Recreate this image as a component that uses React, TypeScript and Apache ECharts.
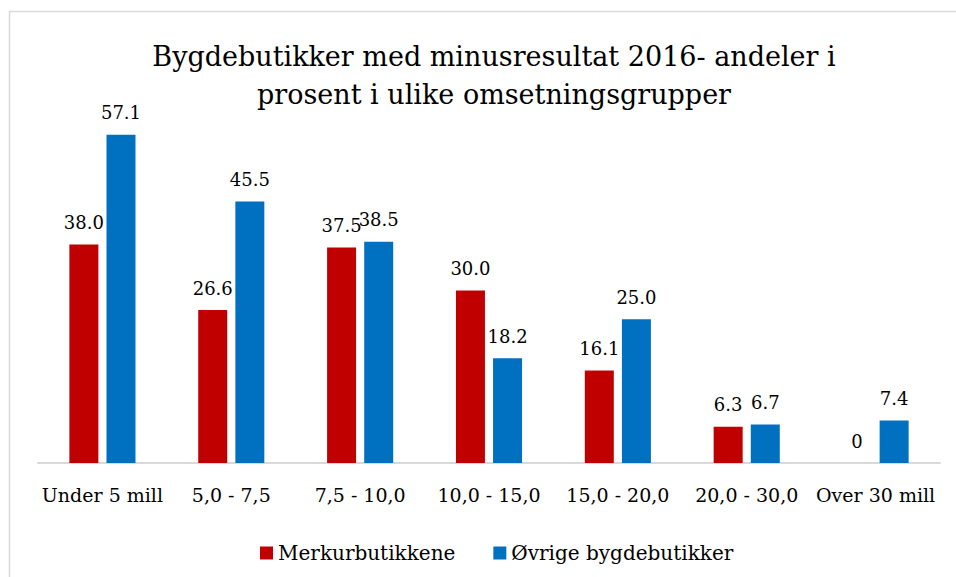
import React, { useEffect, useRef } from "react";
import * as echarts from "echarts";

const titleText = "Bygdebutikker med minusresultat 2016- andeler i\nprosent i ulike omsetningsgrupper";
const categories = ["Under 5 mill", "5,0 - 7,5", "7,5 - 10,0", "10,0 - 15,0", "15,0 - 20,0", "20,0 - 30,0", "Over 30 mill"];
const seriesNames = ["Merkurbutikkene", "Øvrige bygdebutikker"];
const merkur = [38.0, 26.6, 37.5, 30.0, 16.1, 6.3, 0];
const ovrige = [57.1, 45.5, 38.5, 18.2, 25.0, 6.7, 7.4];
const colors = ["#C00000", "#0070C0"];

const FONT = "'DejaVu Serif', serif";

export default function App() {
  const ref = useRef<HTMLDivElement>(null);
  useEffect(() => {
    if (!ref.current) return;
    const chart = echarts.init(ref.current, null, { renderer: "svg" });
    const fmt = (p: any) => (p.value === 0 ? "0" : Number(p.value).toFixed(1));
    chart.setOption({
      animation: false,
      backgroundColor: "#ffffff",
      textStyle: { fontFamily: FONT },
      title: {
        text: titleText,
        left: 489,
        textAlign: "center",
        top: 32,
        textStyle: { fontFamily: FONT, fontSize: 27, fontWeight: "normal", color: "#000", lineHeight: 38 },
      },
      graphic: [
        {
          type: "rect",
          shape: { x: 9.5, y: 11.5, width: 950, height: 580 },
          style: { fill: "none", stroke: "#D9D9D9", lineWidth: 1.5 },
          silent: true,
        },
      ],
      legend: {
        data: seriesNames,
        left: 255,
        top: 538,
        itemWidth: 13,
        itemHeight: 13,
        itemGap: 38,
        icon: "rect",
        textStyle: { fontFamily: FONT, fontSize: 20, color: "#000" },
      },
      grid: { left: 38, right: 16, top: 118, bottom: 114, containLabel: false },
      xAxis: {
        type: "category",
        data: categories,
        axisLine: { lineStyle: { color: "#D9D9D9", width: 2 } },
        axisTick: { show: false },
        axisLabel: { fontFamily: FONT, fontSize: 19, color: "#000", margin: 22, interval: 0 },
      },
      yAxis: {
        type: "value",
        min: 0,
        max: 60,
        show: false,
        splitLine: { show: false },
      },
      series: [
        {
          name: seriesNames[0],
          type: "bar",
          data: merkur,
          barWidth: 29,
          barGap: "28%",
          itemStyle: { color: colors[0] },
          label: { show: true, position: "top", distance: 13, formatter: fmt, fontFamily: FONT, fontSize: 18, color: "#000" },
        },
        {
          name: seriesNames[1],
          type: "bar",
          data: ovrige,
          barWidth: 29,
          barGap: "28%",
          itemStyle: { color: colors[1] },
          label: { show: true, position: "top", distance: 13, formatter: fmt, fontFamily: FONT, fontSize: 18, color: "#000" },
        },
      ],
    });
    return () => chart.dispose();
  }, []);
  return <div ref={ref} style={{ position: "fixed", left: 0, top: 0, width: 956, height: 577 }} />;
}
